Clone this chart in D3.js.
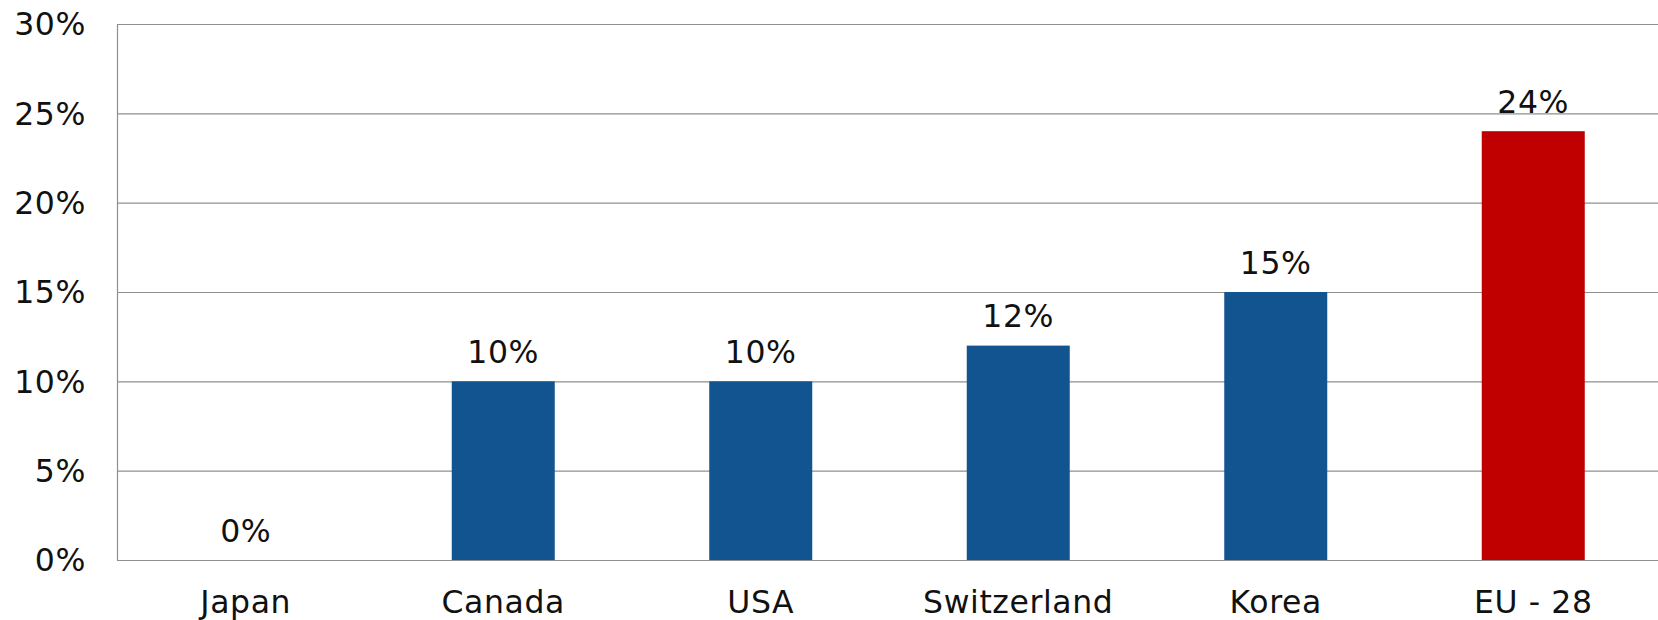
<!DOCTYPE html>
<html><head><meta charset="utf-8">
<script src="https://cdn.jsdelivr.net/npm/d3@7"></script>
<style>
html,body{margin:0;padding:0;background:#fff;}
text{font-family:"DejaVu Sans",Verdana,sans-serif;fill:#111;}
</style></head>
<body><svg id="c" width="1658" height="620"></svg>
<script>
const categories = ["Japan","Canada","USA","Switzerland","Korea","EU - 28"];
const values = [0, 10, 10, 12, 15, 24];
const barColors = ["#12548f","#12548f","#12548f","#12548f","#12548f","#c00000"];
const yTicks = [0,5,10,15,20,25,30];

(function(){
const svg = d3.select("#c");
const pLeft = 117, pRight = 1662, pTop = 24, pBottom = 560;
const x = d3.scaleBand().domain(categories).range([pLeft, pRight]).padding(0);
const y = d3.scaleLinear().domain([0, 30]).range([pBottom, pTop]);
const fs = 31.5;

svg.append("g").selectAll("line").data(yTicks).join("line")
  .attr("x1", pLeft).attr("x2", 1658)
  .attr("y1", d => y(d)+0.5).attr("y2", d => y(d)+0.5)
  .attr("stroke", "#8f8f8f").attr("stroke-width", 1.2);
svg.append("line").attr("x1", pLeft+0.5).attr("x2", pLeft+0.5)
  .attr("y1", y(30)).attr("y2", y(0)).attr("stroke", "#8f8f8f").attr("stroke-width", 1.2);

svg.append("g").selectAll("text").data(yTicks).join("text")
  .attr("x", 86).attr("y", d => y(d)).attr("dy", "0.36em")
  .attr("text-anchor", "end").attr("font-size", fs).attr("letter-spacing", "0.6px")
  .text(d => d + "%");

const bw = x.bandwidth() * 0.4;
svg.append("g").selectAll("rect").data(values).join("rect")
  .attr("x", (d,i) => x(categories[i]) + x.bandwidth()/2 - bw/2)
  .attr("width", bw)
  .attr("y", d => y(d)).attr("height", d => y(0) - y(d))
  .attr("fill", (d,i) => barColors[i]);

svg.append("g").selectAll("text").data(values).join("text")
  .attr("x", (d,i) => x(categories[i]) + x.bandwidth()/2)
  .attr("y", d => y(d) - 18.5)
  .attr("text-anchor", "middle").attr("font-size", fs).attr("letter-spacing", "0.6px")
  .text(d => d + "%");

svg.append("g").selectAll("text").data(categories).join("text")
  .attr("x", d => x(d) + x.bandwidth()/2)
  .attr("y", 613)
  .attr("text-anchor", "middle").attr("font-size", fs).attr("letter-spacing", "0.6px")
  .text(d => d);
})();
</script></body></html>
